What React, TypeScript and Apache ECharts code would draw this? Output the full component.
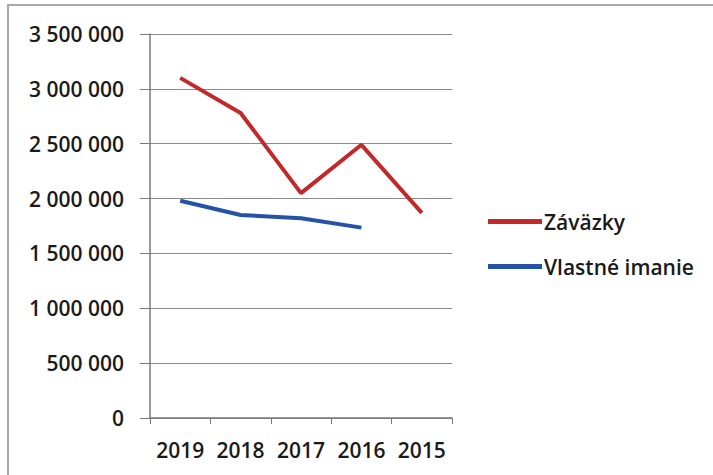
import React, { useEffect, useRef } from "react";
import * as echarts from "echarts";

const years = ["2019", "2018", "2017", "2016", "2015"];
const zavazky = [3100000, 2780000, 2050000, 2490000, 1870000];
const vlastneImanie: (number | null)[] = [1980000, 1850000, 1820000, 1735000, null];
const seriesNames = ["Záväzky", "Vlastné imanie"];
const seriesColors = ["#c3282b", "#2552a6"];

const fmt = (v: number) => String(Math.round(v)).replace(/\B(?=(\d{3})+(?!\d))/g, " ");

export default function App() {
  const ref = useRef<HTMLDivElement>(null);
  useEffect(() => {
    if (!ref.current) return;
    const chart = echarts.init(ref.current, null, { renderer: "svg" });
    const font = "'Open Sans', sans-serif";
    chart.setOption({
      animation: false,
      backgroundColor: "#ffffff",
      textStyle: { fontFamily: font },
      graphic: [
        {
          type: "rect",
          shape: { x: 8, y: 5, width: 720, height: 500 },
          style: { fill: "none", stroke: "#a8a8a8", lineWidth: 2 },
          silent: true,
        },
      ],
      grid: { left: 150, right: 261, top: 34, bottom: 57 },
      legend: {
        orient: "vertical",
        left: 488,
        top: 211,
        padding: 0,
        itemWidth: 54,
        itemHeight: 5,
        itemGap: 24,
        icon: "rect",
        textStyle: { fontSize: 21, fontWeight: 600, color: "#1a1a1a", fontFamily: font, padding: [0, 0, 0, -3] },
        data: seriesNames,
      },
      xAxis: {
        type: "category",
        data: years,
        boundaryGap: true,
        axisLine: { show: true, lineStyle: { color: "#7a7a7a", width: 1.5 } },
        axisTick: { show: true, length: 6, interval: 0, lineStyle: { color: "#7a7a7a" } },
        axisLabel: { interval: 0, hideOverlap: false, fontSize: 21, fontWeight: 600, color: "#1a1a1a", margin: 21, fontFamily: font },
      },
      yAxis: {
        type: "value",
        min: 0,
        max: 3500000,
        interval: 500000,
        axisLine: { show: true, lineStyle: { color: "#7a7a7a", width: 1.5 } },
        axisTick: { show: true, length: 10, lineStyle: { color: "#7a7a7a" } },
        splitLine: { show: true, lineStyle: { color: "#8a8a8a", width: 1.2 } },
        axisLabel: { fontSize: 21, fontWeight: 600, color: "#1a1a1a", margin: 26, fontFamily: font, formatter: (v: number) => fmt(v) },
      },
      series: [
        {
          name: seriesNames[0],
          type: "line",
          data: zavazky,
          symbol: "none",
          color: seriesColors[0],
          lineStyle: { width: 4, color: seriesColors[0] },
        },
        {
          name: seriesNames[1],
          type: "line",
          data: vlastneImanie,
          symbol: "none",
          color: seriesColors[1],
          lineStyle: { width: 4, color: seriesColors[1] },
        },
      ],
    });
    return () => chart.dispose();
  }, []);
  return (
    <div
      ref={ref}
      style={{ position: "fixed", left: 0, top: 0, width: 713, height: 475 }}
    />
  );
}
